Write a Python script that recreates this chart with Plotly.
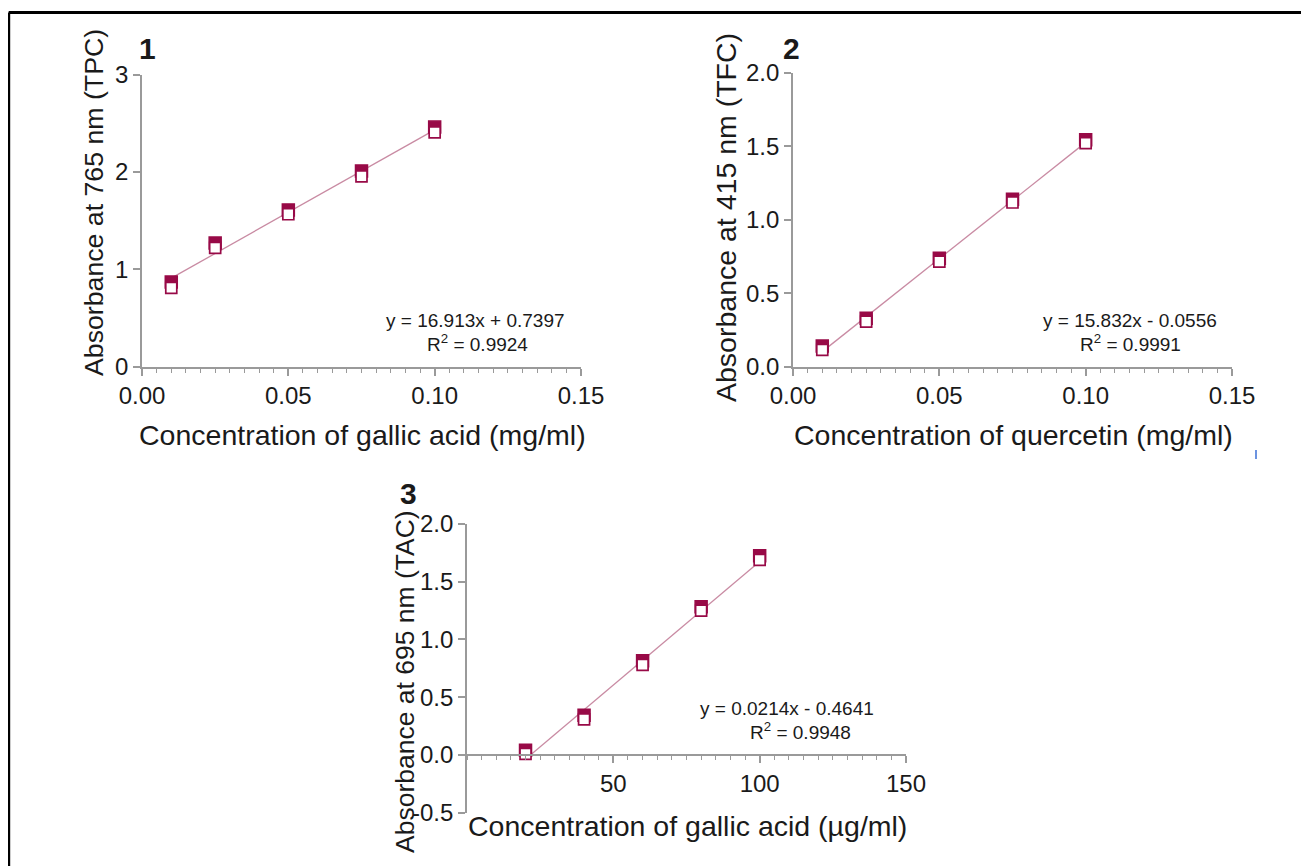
import plotly.graph_objects as go

W, H = 1309, 866
OFF = 8  # page body margin of the host page

# ---------------- data ----------------
# Panel 1: TPC, gallic acid (mg/ml)
p1_x = [0.01, 0.025, 0.05, 0.075, 0.10]
p1_rep1 = [0.87, 1.27, 1.61, 2.01, 2.46]
p1_rep2 = [0.81, 1.22, 1.565, 1.955, 2.405]
p1_slope, p1_intercept = 16.913, 0.7397
p1_eq = "y = 16.913x + 0.7397"
p1_r2 = "R<sup>2</sup> = 0.9924"

# Panel 2: TFC, quercetin (mg/ml)
p2_x = [0.01, 0.025, 0.05, 0.075, 0.10]
p2_rep1 = [0.141, 0.33, 0.739, 1.141, 1.545]
p2_rep2 = [0.114, 0.307, 0.716, 1.118, 1.523]
p2_slope, p2_intercept = 15.832, -0.0556
p2_eq = "y = 15.832x - 0.0556"
p2_r2 = "R<sup>2</sup> = 0.9991"

# Panel 3: TAC, gallic acid (µg/ml)
p3_x = [20, 40, 60, 80, 100]
p3_rep1 = [0.04, 0.343, 0.815, 1.284, 1.724]
p3_rep2 = [0.01, 0.309, 0.78, 1.25, 1.69]
p3_slope, p3_intercept = 0.0214, -0.4641
p3_eq = "y = 0.0214x - 0.4641"
p3_r2 = "R<sup>2</sup> = 0.9948"

p1_yticks = [0, 1, 2, 3]
p1_ytext = ["0", "1", "2", "3"]
p2_yticks = [0.0, 0.5, 1.0, 1.5, 2.0]
p2_ytext = ["0.0", "0.5", "1.0", "1.5", "2.0"]
p3_yticks = [-0.5, 0.0, 0.5, 1.0, 1.5, 2.0]
p3_ytext = ["-0.5", "0.0", "0.5", "1.0", "1.5", "2.0"]
p12_xticks = [0.0, 0.05, 0.10, 0.15]
p12_xtext = ["0.00", "0.05", "0.10", "0.15"]
p3_xticks = [50, 100, 150]
p3_xtext = ["50", "100", "150"]

# ---------------- style ----------------
FONT = "Liberation Sans, Arial, sans-serif"
MK = "#980a47"
LN = "#c98ba3"
AX = "#9a9a9a"
TXT = "#1a1a1a"


def px(x):
    return (x - OFF) / W


def py(y):
    return 1 - (y - OFF) / H


fig = go.Figure()


def add_panel(idx, xs, r1, r2, slope, intercept, x_start=None):
    xa = "x" if idx == 1 else f"x{idx}"
    ya = "y" if idx == 1 else f"y{idx}"
    x0 = xs[0] if x_start is None else x_start
    x1 = xs[-1]
    fig.add_trace(go.Scatter(
        x=[x0, x1], y=[slope * x0 + intercept, slope * x1 + intercept],
        mode="lines", line=dict(color=LN, width=1.3),
        xaxis=xa, yaxis=ya, showlegend=False, hoverinfo="skip"))
    fig.add_trace(go.Scatter(
        x=xs, y=r1, mode="markers",
        marker=dict(symbol="square", size=12, color=MK,
                    line=dict(color=MK, width=1.5)),
        xaxis=xa, yaxis=ya, showlegend=False, cliponaxis=False))
    fig.add_trace(go.Scatter(
        x=xs, y=r2, mode="markers",
        marker=dict(symbol="square", size=11, color="white",
                    line=dict(color=MK, width=1.7)),
        xaxis=xa, yaxis=ya, showlegend=False, cliponaxis=False))


add_panel(1, p1_x, p1_rep1, p1_rep2, p1_slope, p1_intercept)
add_panel(2, p2_x, p2_rep1, p2_rep2, p2_slope, p2_intercept)
p3_start = max(p3_x[0], -p3_intercept / p3_slope)
add_panel(3, p3_x, p3_rep1, p3_rep2, p3_slope, p3_intercept, x_start=p3_start)

tickfont = dict(family=FONT, size=24, color=TXT)
common = dict(showline=True, linecolor=AX, linewidth=1.6, ticks="outside",
              tickcolor=AX, tickwidth=1.6, ticklen=7, showgrid=False,
              zeroline=False, tickfont=tickfont, fixedrange=True,
              automargin=False)

xminor = dict(ticks="outside", ticklen=4, tickcolor=AX, tickwidth=1.2,
              showgrid=False)

fig.update_layout(
    template="none",
    width=W, height=H, autosize=False,
    margin=dict(l=0, r=0, t=0, b=0, pad=0, autoexpand=False),
    paper_bgcolor="white", plot_bgcolor="rgba(0,0,0,0)",
    font=dict(family=FONT, color=TXT),
    showlegend=False,
    xaxis=dict(domain=[px(142), px(581)], range=[0, 0.15], anchor="y",
               tickvals=p12_xticks, ticktext=p12_xtext,
               minor=dict(dtick=0.005, tick0=0, **xminor), **common),
    yaxis=dict(domain=[py(366.7), py(74.5)], range=[0, 3], anchor="x",
               tickvals=p1_yticks, ticktext=p1_ytext, **common),
    xaxis2=dict(domain=[px(793), px(1232)], range=[0, 0.15], anchor="y2",
                tickvals=p12_xticks, ticktext=p12_xtext,
                minor=dict(dtick=0.005, tick0=0, **xminor), **common),
    yaxis2=dict(domain=[py(366.7), py(73)], range=[0, 2], anchor="x2",
                tickvals=p2_yticks, ticktext=p2_ytext, **common),
    xaxis3=dict(domain=[px(467), px(906)], range=[0, 150], anchor="free",
                position=py(755),
                tickvals=p3_xticks, ticktext=p3_xtext,
                minor=dict(dtick=5, tick0=0, **xminor), **common),
    yaxis3=dict(domain=[py(812.7), py(524)], range=[-0.5, 2], anchor="x3",
                tickvals=p3_yticks, ticktext=p3_ytext, **common),
)

annos = []


def txt(x, y, s, size, angle=0, bold=False, xanchor="center"):
    annos.append(dict(
        x=px(x), y=py(y), xref="paper", yref="paper",
        text=(f"<b>{s}</b>" if bold else s),
        showarrow=False, textangle=angle, xanchor=xanchor, yanchor="middle",
        font=dict(family=FONT, size=size, color=TXT)))


# axis titles
txt(362, 435, "Concentration of gallic acid (mg/ml)", 28.5)
txt(94, 203, "Absorbance at 765 nm (TPC)", 26.7, angle=-90)
txt(1013, 435, "Concentration of quercetin (mg/ml)", 28.5)
txt(726, 218, "Absorbance at 415 nm (TFC)", 28.5, angle=-90)
txt(688, 826, "Concentration of gallic acid (µg/ml)", 28.5)
txt(405, 682, "Absorbance at 695 nm (TAC)", 26.5, angle=-90)

# panel numbers
txt(137, 49, "1", 30, bold=True, xanchor="left")
txt(781, 49, "2", 30, bold=True, xanchor="left")
txt(398, 493, "3", 30, bold=True, xanchor="left")

# equations
txt(475, 320, p1_eq, 19)
txt(477, 343, p1_r2, 19)
txt(1130, 320, p2_eq, 19)
txt(1130, 343, p2_r2, 19)
txt(787, 708, p3_eq, 19)
txt(800, 731, p3_r2, 19)

fig.update_layout(annotations=annos)

# outer frame (top and left edges visible) and small stray blue mark
fig.update_layout(shapes=[
    dict(type="line", xref="paper", yref="paper", x0=px(8.7), x1=1.0,
         y0=py(12.5), y1=py(12.5), line=dict(color="black", width=3)),
    dict(type="line", xref="paper", yref="paper", x0=px(8.7), x1=px(8.7),
         y0=py(12.5), y1=0, line=dict(color="black", width=3)),
    dict(type="line", xref="paper", yref="paper", x0=px(1256), x1=px(1256),
         y0=py(450), y1=py(459), line=dict(color="#3b6fd6", width=1.5)),
])

fig.write_html("out.html")
